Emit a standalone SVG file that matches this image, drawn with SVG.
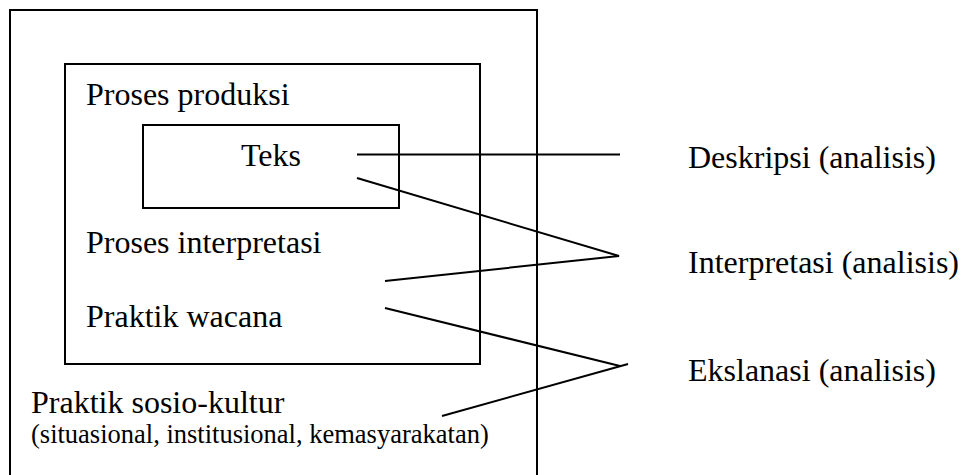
<svg xmlns="http://www.w3.org/2000/svg" width="967" height="475" viewBox="0 0 967 475">
<style>
.box{fill:none;stroke:#000;stroke-width:2}
.ln{fill:none;stroke:#000;stroke-width:2}
.t{font-family:'Liberation Serif','Times New Roman',serif;fill:#000;font-size:32px}
.sm{font-size:26.5px}
</style>
<rect width="967" height="475" fill="#fff"/>
<g id="outer">
<rect class="box" x="10" y="10" width="527" height="480"/>
<text class="t" x="31" y="413">Praktik sosio-kultur</text>
<text class="t sm" x="31" y="443">(situasional, institusional, kemasyarakatan)</text>
</g>
<g id="inner">
<rect class="box" x="65" y="64" width="415" height="300"/>
<text class="t" x="86" y="105">Proses produksi</text>
<text class="t" x="86" y="253">Proses interpretasi</text>
<text class="t" x="86" y="327">Praktik wacana</text>
</g>
<g id="teks">
<rect class="box" x="143" y="125" width="256" height="83"/>
<text class="t" x="241" y="166">Teks</text>
</g>
<g id="deskripsi">
<text class="t" x="688" y="168">Deskripsi (analisis)</text>
</g>
<g id="interpretasi">
<text class="t" x="688" y="273">Interpretasi (analisis)</text>
</g>
<g id="ekslanasi">
<text class="t" x="688" y="381">Ekslanasi (analisis)</text>
</g>
<g id="connectors">
<line class="ln" x1="357" y1="154.5" x2="620" y2="154.5"/>
<polyline class="ln" points="357,178 619,256 385,281"/>
<line class="ln" x1="385" y1="308" x2="620" y2="366"/>
<line class="ln" x1="442" y1="416" x2="628" y2="364"/>
</g>
</svg>
